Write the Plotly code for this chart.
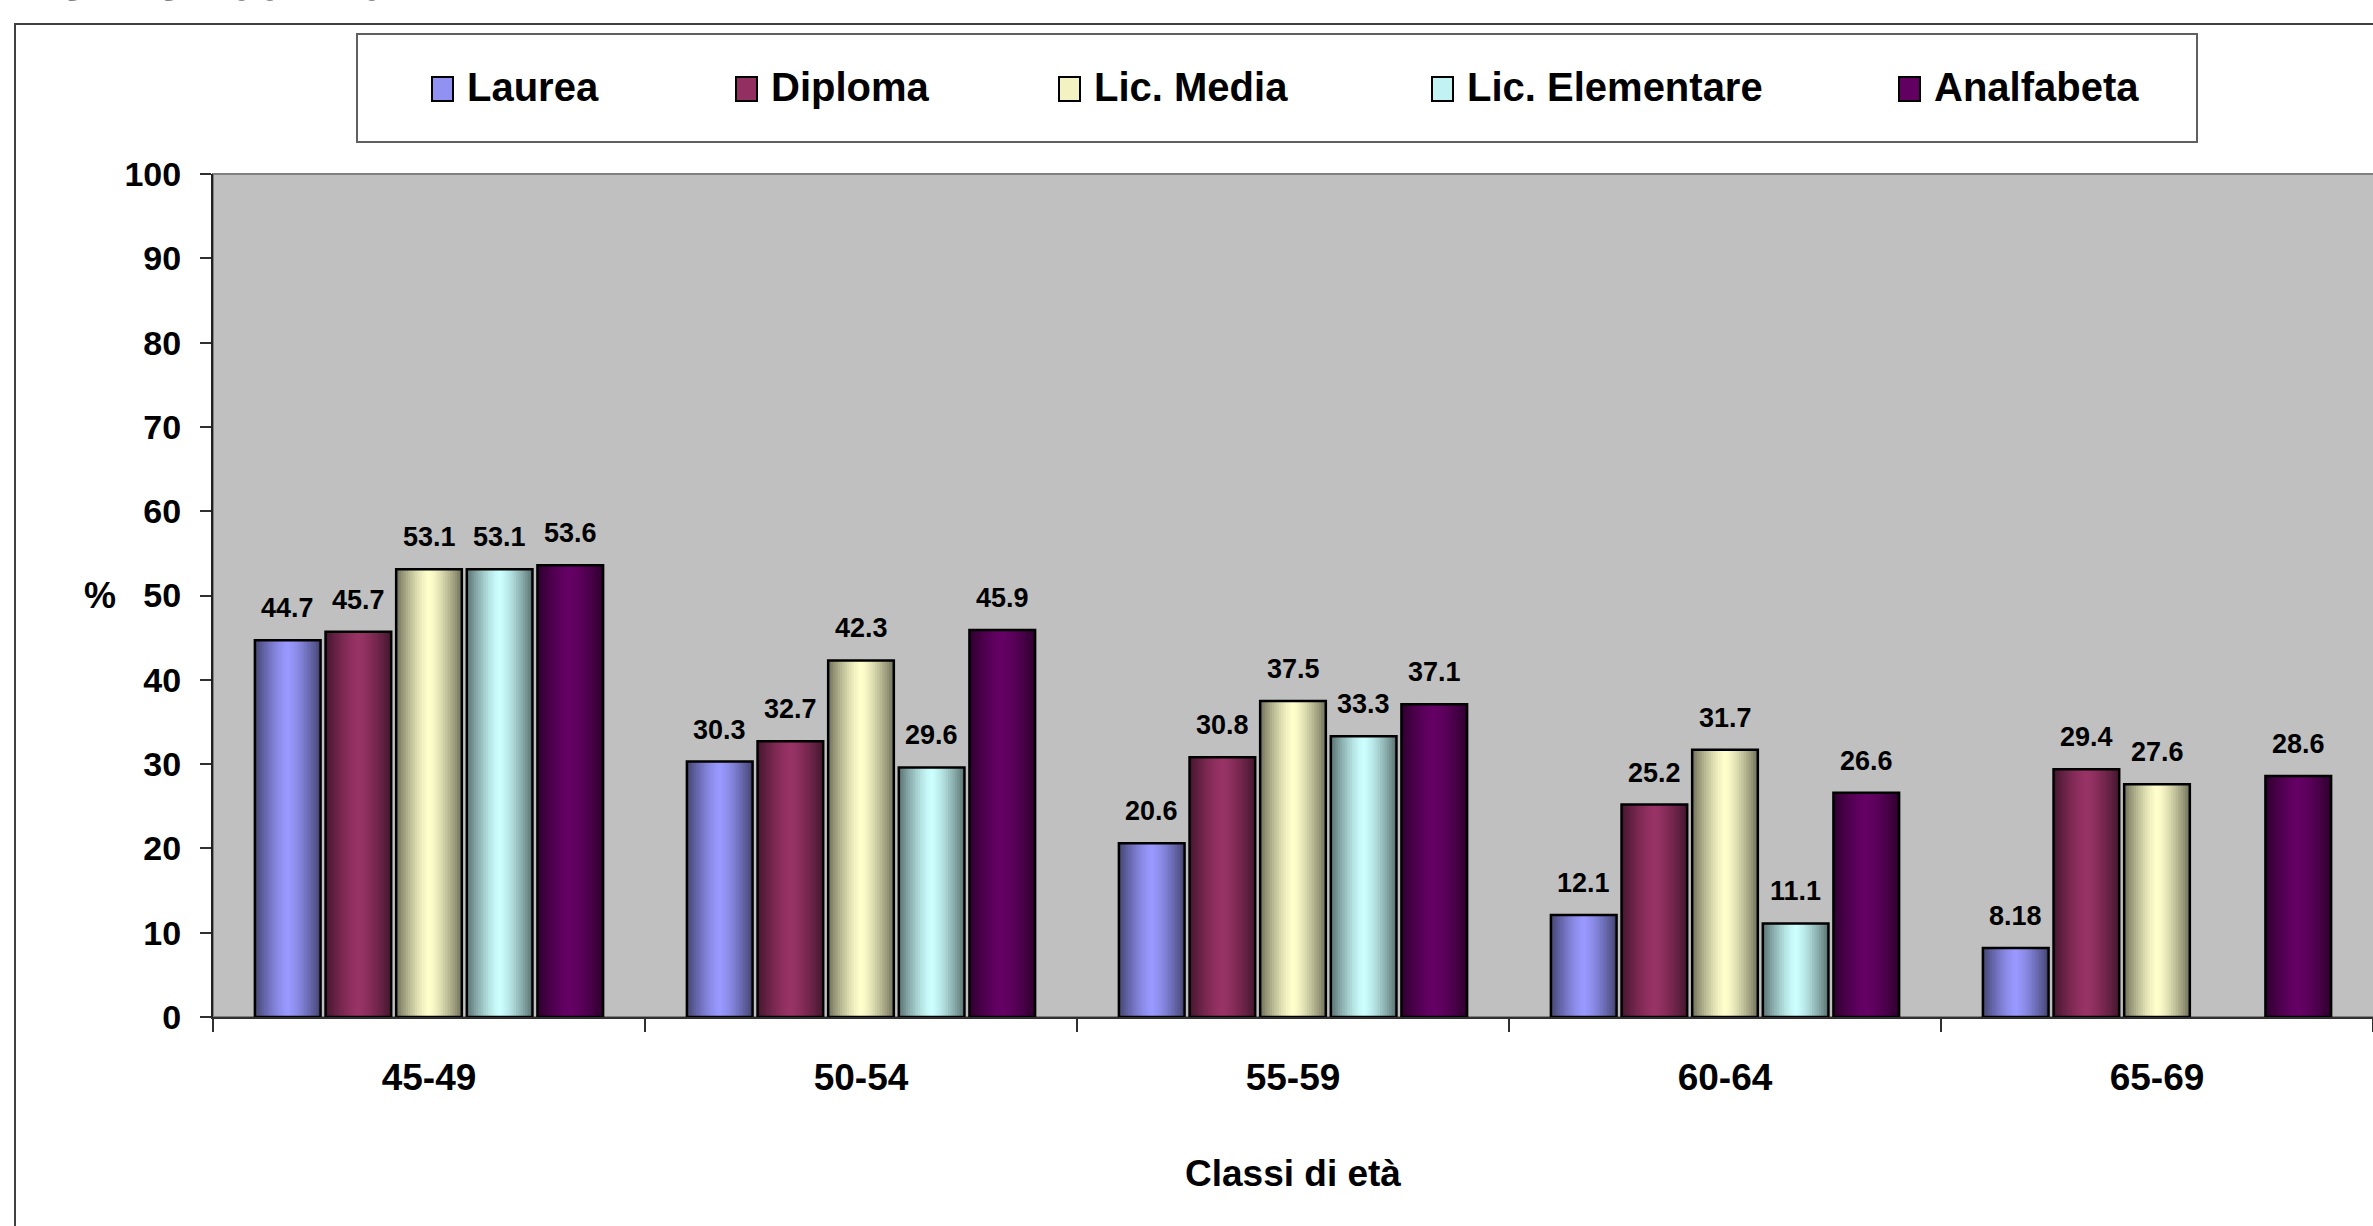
import plotly.graph_objects as go

# ---------------- data ----------------
categories = ["45-49", "50-54", "55-59", "60-64", "65-69"]
series_names = ["Laurea", "Diploma", "Lic. Media", "Lic. Elementare", "Analfabeta"]
laurea = [44.7, 30.3, 20.6, 12.1, 8.18]
diploma = [45.7, 32.7, 30.8, 25.2, 29.4]
lic_media = [53.1, 42.3, 37.5, 31.7, 27.6]
lic_elementare = [53.1, 29.6, 33.3, 11.1, None]
analfabeta = [53.6, 45.9, 37.1, 26.6, 28.6]
y_ticks = [0, 10, 20, 30, 40, 50, 60, 70, 80, 90, 100]
title_text = "Torino 2001-2012"
x_title = "Classi di età"
y_title = "%"

series_values = [laurea, diploma, lic_media, lic_elementare, analfabeta]
series_colors = [(0x99, 0x99, 0xFF), (0x99, 0x33, 0x66), (0xFF, 0xFF, 0xCC),
                 (0xCC, 0xFF, 0xFF), (0x66, 0x00, 0x66)]

# ---------------- geometry helpers ----------------
W, H = 2373, 1226
L, R, T, B = 213, 0, 174, 209
PW = W - L - R
PH = H - T - B


def xp(px):
    return (px - L) / PW


def yp(py):
    return (H - B - py) / PH


FONT = "Liberation Sans, Arial, sans-serif"
STEP = 0.1635
BW = 0.152
NLEV = 14


def rgb(c, f):
    return "rgb(%d,%d,%d)" % tuple(max(0, min(255, round(v * f))) for v in c)


fig = go.Figure()
xs_idx = list(range(len(categories)))

for j, (name, vals, col) in enumerate(zip(series_names, series_values, series_colors)):
    xs = [i + (j - 2) * STEP for i in xs_idx]
    # base layer
    fig.add_trace(go.Bar(x=xs, y=vals, width=BW, name=name,
                         marker=dict(color=rgb(col, 1.0), line=dict(width=0)),
                         showlegend=False, hoverinfo="skip"))
    # cylinder shading: nested bars, darker at edges
    for k in range(NLEV):
        wk = BW * (1 - k / NLEV)
        d = 1 - (k + 0.5) / NLEV
        f = 1 - 0.56 * d ** 1.4
        fig.add_trace(go.Bar(x=xs, y=vals, width=wk,
                             marker=dict(color=rgb(col, f), line=dict(width=0)),
                             showlegend=False, hoverinfo="skip"))
    # outline
    fig.add_trace(go.Bar(x=xs, y=vals, width=BW, name=name,
                         marker=dict(color="rgba(0,0,0,0)", line=dict(width=2.5, color="black")),
                         showlegend=False,
                         hovertemplate=name + ": %{y}<extra></extra>"))

annotations = []
# data labels
for j, vals in enumerate(series_values):
    for i, v in enumerate(vals):
        if v is None:
            continue
        annotations.append(dict(x=i + (j - 2) * STEP, y=v, xref="x", yref="y",
                                text="%g" % v, showarrow=False, yanchor="bottom",
                                yshift=15,
                                font=dict(family=FONT, size=27, color="black", weight="bold")))

# manual legend
legend_marker_x = [432, 736, 1059, 1432, 1899]
shapes = []
shapes.append(dict(type="rect", xref="paper", yref="paper",
                   x0=xp(357), x1=xp(2197), y0=yp(142), y1=yp(34),
                   line=dict(color="#606060", width=2), fillcolor="white", layer="above"))
for name, col, mx in zip(series_names, series_colors, legend_marker_x):
    shapes.append(dict(type="rect", xref="paper", yref="paper",
                       x0=xp(mx), x1=xp(mx + 21), y0=yp(101), y1=yp(77),
                       line=dict(color="black", width=2), fillcolor=rgb(col, 0.95),
                       layer="above"))
    annotations.append(dict(x=xp(mx + 33), y=yp(87), xref="paper", yref="paper",
                            text=name, showarrow=False, xanchor="left", yanchor="middle",
                            font=dict(family=FONT, size=40, color="black", weight="bold")))

# outer chart frame
shapes.append(dict(type="rect", xref="paper", yref="paper",
                   x0=xp(15), x1=xp(W + 20), y0=yp(H + 20), y1=yp(24),
                   line=dict(color="#404040", width=2), fillcolor="rgba(0,0,0,0)",
                   layer="below"))
# plot area border (grey top edge)
shapes.append(dict(type="rect", xref="paper", yref="paper",
                   x0=0, x1=1.002, y0=0, y1=1,
                   line=dict(color="#808080", width=2), fillcolor="rgba(0,0,0,0)",
                   layer="below"))

# titles
annotations.append(dict(x=xp(28), y=yp(13), xref="paper", yref="paper", text=title_text,
                        showarrow=False, xanchor="left", yanchor="bottom",
                        font=dict(family=FONT, size=51, color="black", weight="bold")))
annotations.append(dict(x=0.5, y=yp(1173), xref="paper", yref="paper", text=x_title,
                        showarrow=False, xanchor="center", yanchor="middle",
                        font=dict(family=FONT, size=37, color="black", weight="bold")))
annotations.append(dict(x=xp(100), y=50, xref="paper", yref="y", text=y_title,
                        showarrow=False, xanchor="center", yanchor="middle",
                        font=dict(family=FONT, size=36, color="black", weight="bold")))

fig.update_layout(
    width=W, height=H,
    margin=dict(l=L, r=R, t=T, b=B, pad=0),
    barmode="overlay",
    paper_bgcolor="white",
    plot_bgcolor="#C0C0C0",
    showlegend=False,
    shapes=shapes,
    annotations=annotations,
    xaxis=dict(range=[-0.5, len(categories) - 0.5], tickmode="array",
               tickvals=xs_idx, ticktext=categories, ticks="", showgrid=False,
               zeroline=False, showline=True, linecolor="#303030", linewidth=2,
               ticklabelstandoff=27,
               tickfont=dict(family=FONT, size=37, color="black", weight="bold"),
               minor=dict(tickmode="array",
                          tickvals=[i - 0.5 for i in range(len(categories) + 1)],
                          ticks="outside", ticklen=13, tickcolor="#303030", tickwidth=1.5,
                          showgrid=False)),
    yaxis=dict(range=[0, 100], tickmode="array", tickvals=y_ticks, ticks="outside",
               ticklen=11, tickcolor="#303030", tickwidth=1.5, showgrid=False,
               zeroline=False, showline=True, linecolor="#202020", linewidth=2,
               ticklabelstandoff=12,
               tickfont=dict(family=FONT, size=34, color="black", weight="bold")),
)

fig.write_html("out.html")
